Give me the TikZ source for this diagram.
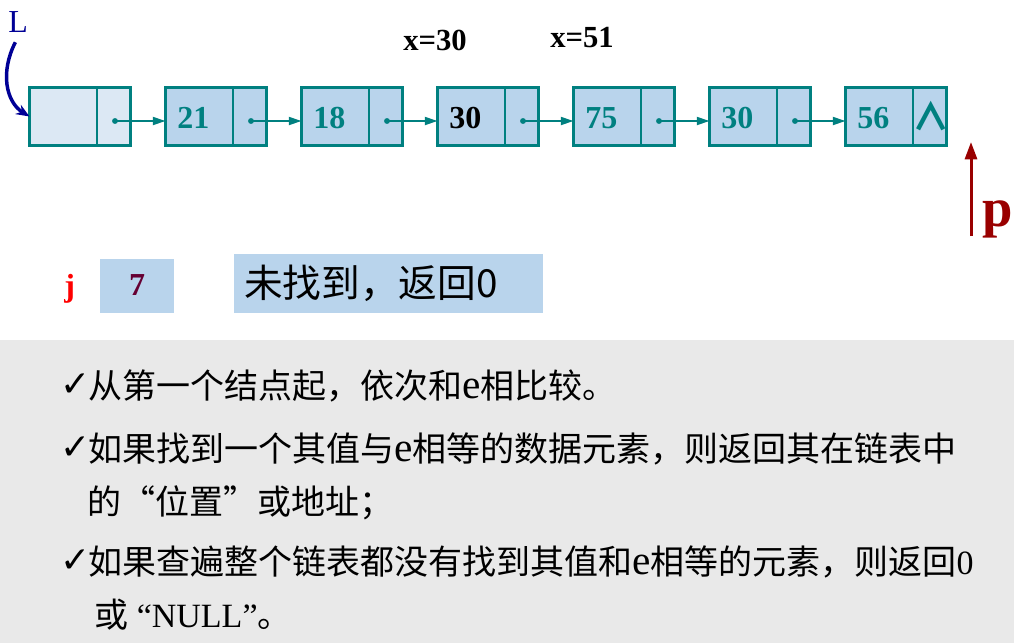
\documentclass[tikz,border=0pt]{standalone}
\usepackage{fontspec}
\newfontfamily\cjk{Noto Sans CJK SC}
\newfontfamily\tms{Liberation Serif}
\newfontfamily\dvs{DejaVu Sans}
\usetikzlibrary{arrows.meta}
\definecolor{teal2}{RGB}{0,128,128}
\definecolor{nodefill}{RGB}{185,212,236}
\definecolor{firstfill}{RGB}{220,232,244}
\definecolor{navy2}{RGB}{0,0,150}
\definecolor{pred}{RGB}{153,0,0}
\definecolor{jred}{RGB}{255,0,0}
\definecolor{seven}{RGB}{102,0,51}
\definecolor{graybg}{RGB}{233,233,233}
\newcommand\latE{{\tms\fontsize{31}{31}\selectfont e}}
\newcommand\latT[1]{{\tms #1}}
\begin{document}
\begin{tikzpicture}[x=0.75pt,y=-0.75pt,
  cell/.style={draw=teal2, line width=2.25pt, fill=nodefill, minimum width=75.75pt, minimum height=43.5pt, inner sep=0pt, outer sep=0pt},
  divider/.style={draw=teal2, line width=1.2pt},
  link/.style={draw=teal2, line width=1.5pt, -{Triangle[length=9.5pt,width=6pt]}},
  data/.style={font=\fontsize{24}{24}\selectfont\tms\bfseries, text=teal2, anchor=base west, inner sep=0pt},
  lab/.style={font=\fontsize{23}{23}\selectfont\tms\bfseries, text=black, anchor=base west, inner sep=0pt},
  bul/.style={font=\fontsize{27}{27}\selectfont\dvs\bfseries, anchor=base west, inner sep=0pt},
  txt/.style={font=\fontsize{25.5}{30}\selectfont\cjk, anchor=base west, inner sep=0pt},
  nilstyle/.style={font=\fontsize{28}{28}\selectfont\cjk\bfseries, text=teal2, anchor=center, inner sep=0pt},
  msgbox/.style={fill=nodefill, minimum width=231.75pt, minimum height=44.25pt, text width=216.75pt, inner xsep=7.5pt, inner ysep=0pt, align=left, font=\fontsize{29}{34}\selectfont\cjk},
  valbox/.style={fill=nodefill, minimum width=55.5pt, minimum height=40.5pt, inner sep=0pt, font=\fontsize{24}{24}\selectfont\tms\bfseries, text=seven}
]
\useasboundingbox (0,0) rectangle (1014,643);
\fill[white] (0,0) rectangle (1014,643);
\fill[graybg] (0,340) rectangle (1014,643);

% linked list nodes
\node[cell, fill=firstfill] (n1) at (80,116.5) {};
\node[cell] (n2) at (216,116.5) {};
\node[cell] (n3) at (352,116.5) {};
\node[cell] (n4) at (488,116.5) {};
\node[cell] (n5) at (624,116.5) {};
\node[cell] (n6) at (760,116.5) {};
\node[cell] (n7) at (896,116.5) {};
\foreach \n in {n1,n2,n3,n4,n5,n6,n7}{
  \draw[divider] ([xshift=12.75pt]\n.north) -- ([xshift=12.75pt]\n.south);
}
% pointer dots
\coordinate (d1) at (115,121);
\coordinate (d2) at (251,121);
\coordinate (d3) at (387,121);
\coordinate (d4) at (523,121);
\coordinate (d5) at (659,121);
\coordinate (d6) at (795,121);
\foreach \d in {d1,d2,d3,d4,d5,d6}{ \fill[teal2] (\d) circle (2.2pt); }
\draw[link] (d1) -- (d1 -| n2.west);
\draw[link] (d2) -- (d2 -| n3.west);
\draw[link] (d3) -- (d3 -| n4.west);
\draw[link] (d4) -- (d4 -| n5.west);
\draw[link] (d5) -- (d5 -| n6.west);
\draw[link] (d6) -- (d6 -| n7.west);
% data
\node[data] (v2) at (177,128) {21};
\node[data] (v3) at (313,128) {18};
\node[data, text=black] (v4) at (449,128) {30};
\node[data] (v5) at (585,128) {75};
\node[data] (v6) at (721,128) {30};
\node[data] (v7) at (857,128) {56};
\node[nilstyle] (nil) at (931,116) {∧};

% labels
\node[lab] (x30) at (403,50) {x=30};
\node[lab] (x51) at (550,47) {x=51};

% head pointer L
\node[anchor=base west, inner sep=0pt, font=\fontsize{24}{24}\selectfont\tms, text=navy2] (L) at (8,32) {L};
\draw[navy2, line width=2.6pt, -{Stealth[length=10pt,width=8pt]}] ([xshift=-2pt,yshift=-7.5pt]L.south) .. controls (0,72) and (6,102) .. (n1.west);

% pointer p
\coordinate (pb) at (971,236);
\coordinate (pt) at (971,142);
\draw[pred, line width=2.25pt, -{Triangle[length=13pt,width=9pt]}] (pb) -- (pt);
\node[anchor=base west, inner sep=0pt, font=\fontsize{41}{41}\selectfont\tms\bfseries, text=pred] (p) at (982,226) {p};

% j and value
\node[anchor=base west, inner sep=0pt, font=\fontsize{24}{24}\selectfont\tms\bfseries, text=jred] (j) at (64,296) {j};
\node[valbox] (jv) at (137,285.5) {7};
\node[msgbox] (msg) at (388.5,283.5) {未找到，返回0};

% explanation text
\node[bul] (c1) at (60,396) {✓};
\node[txt] (t1) at (88,398) {从第一个结点起，依次和\latE 相比较。};
\node[bul] (c2) at (60,459) {✓};
\node[txt] (t2) at (88,461) {如果找到一个其值与\latE 相等的数据元素，则返回其在链表中};
\node[txt] (t3) at (87,514) {的“位置”或地址；};
\node[bul] (c4) at (60,572) {✓};
\node[txt] (t4) at (88,574) {如果查遍整个链表都没有找到其值和\latE 相等的元素，则返回\latT{0}};
\node[txt] (t5) at (94,627) {或\latT{~“NULL”}。};
\end{tikzpicture}
\end{document}
